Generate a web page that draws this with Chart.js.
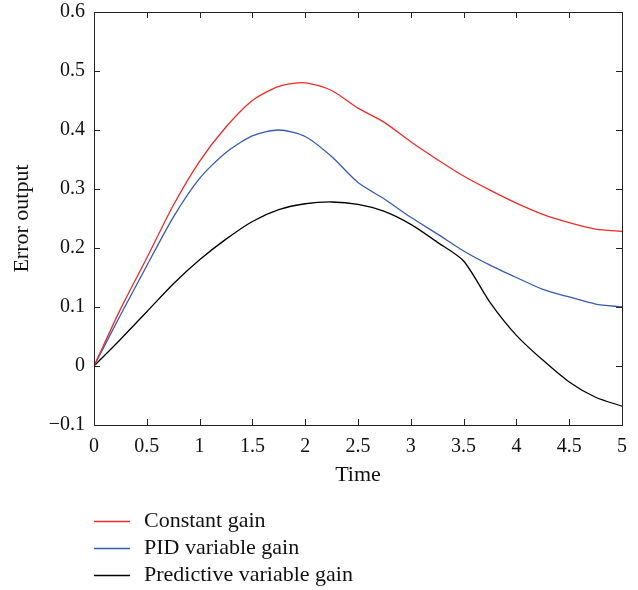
<!DOCTYPE html>
<html>
<head>
<meta charset="utf-8">
<script src="https://cdn.jsdelivr.net/npm/chart.js@4/dist/chart.umd.min.js"></script>
<style>
  html, body { margin: 0; padding: 0; background: #fff; }
  #wrap { width: 638px; height: 590px; position: relative; }
</style>
</head>
<body>
<div id="wrap"><canvas id="errorChart"></canvas></div>
<script>
// time samples (s)
const timeSteps = [0, 0.25, 0.5, 0.75, 1, 1.25, 1.5, 1.75, 2, 2.25, 2.5, 2.75, 3, 3.25, 3.5, 3.75, 4, 4.25, 4.5, 4.75, 5];

const constantGain = [0, 0.096, 0.183, 0.272, 0.347, 0.405, 0.450, 0.474, 0.480, 0.467, 0.437, 0.413, 0.380, 0.350, 0.322, 0.298, 0.276, 0.257, 0.243, 0.232, 0.228];
const pidGain = [0, 0.086, 0.170, 0.252, 0.318, 0.362, 0.390, 0.400, 0.389, 0.355, 0.311, 0.283, 0.252, 0.224, 0.195, 0.171, 0.150, 0.130, 0.117, 0.105, 0.100];
const predictiveGain = [0, 0.045, 0.092, 0.139, 0.180, 0.215, 0.245, 0.265, 0.275, 0.278, 0.274, 0.262, 0.240, 0.210, 0.178, 0.108, 0.052, 0.010, -0.027, -0.053, -0.068];

const seriesLabels = ['Constant gain', 'PID variable gain', 'Predictive variable gain'];
const seriesColors = ['#ee2a2a', '#3a5aad', '#000000'];

const xTicks = [0, 0.5, 1, 1.5, 2, 2.5, 3, 3.5, 4, 4.5, 5];
const yTicks = [-0.1, 0, 0.1, 0.2, 0.3, 0.4, 0.5, 0.6];

const FONT = '"Liberation Serif", "DejaVu Serif", serif';

function toPoints(values) {
    return values.map((v, i) => ({ x: timeSteps[i], y: v }));
}

// box frame + inward ticks on all four sides, matlab style
const frameTicks = {
    id: 'frameTicks',
    afterDraw(chart) {
        const ctx = chart.ctx;
        const area = chart.chartArea;
        const xs = chart.scales.x;
        const ys = chart.scales.y;
        const len = 6;
        ctx.save();
        ctx.strokeStyle = '#222';
        ctx.lineWidth = 1;
        ctx.beginPath();
        xTicks.forEach(t => {
            const px = Math.round(xs.getPixelForValue(t)) + 0.5;
            ctx.moveTo(px, area.bottom); ctx.lineTo(px, area.bottom - len);
            ctx.moveTo(px, area.top); ctx.lineTo(px, area.top + len);
        });
        yTicks.forEach(t => {
            const py = Math.round(ys.getPixelForValue(t)) + 0.5;
            ctx.moveTo(area.left, py); ctx.lineTo(area.left + len, py);
            ctx.moveTo(area.right, py); ctx.lineTo(area.right - len, py);
        });
        ctx.stroke();
        ctx.strokeRect(Math.round(area.left) + 0.5, Math.round(area.top) + 0.5,
            Math.round(area.right - area.left), Math.round(area.bottom - area.top));
        ctx.restore();
    }
};

// stacked legend under the axis title
const stackedLegend = {
    id: 'stackedLegend',
    afterDraw(chart) {
        const ctx = chart.ctx;
        const left = chart.chartArea.left;
        ctx.save();
        ctx.font = '22px ' + FONT;
        ctx.textBaseline = 'middle';
        chart.data.datasets.forEach((ds, i) => {
            const y = 521 + i * 27;
            ctx.strokeStyle = ds.borderColor;
            ctx.lineWidth = 1.3;
            ctx.beginPath();
            ctx.moveTo(left, y + 0.5);
            ctx.lineTo(left + 36, y + 0.5);
            ctx.stroke();
            ctx.fillStyle = '#111';
            ctx.fillText(ds.label, left + 50, y);
        });
        ctx.restore();
    }
};

const datasets = [constantGain, pidGain, predictiveGain].map((vals, i) => ({
    label: seriesLabels[i],
    data: toPoints(vals),
    borderColor: seriesColors[i],
    borderWidth: 1.3,
    pointRadius: 0,
    tension: 0.25,
    fill: false
}));

new Chart(document.getElementById('errorChart'), {
    type: 'line',
    data: { datasets: datasets },
    options: {
        responsive: true,
        maintainAspectRatio: false,
        animation: false,
        layout: { padding: { top: 12, right: 16, left: 0, bottom: 102 } },
        plugins: {
            legend: { display: false },
            tooltip: { enabled: false }
        },
        scales: {
            x: {
                type: 'linear',
                min: 0,
                max: 5,
                afterBuildTicks: scale => { scale.ticks = xTicks.map(v => ({ value: v })); },
                afterFit: scale => { scale.height = 63; scale.paddingLeft = 0; scale.paddingRight = 0; },
                grid: { display: false, drawTicks: false },
                border: { display: false },
                ticks: {
                    color: '#111',
                    font: { family: FONT, size: 20 },
                    padding: 10,
                    maxRotation: 0,
                    callback: v => String(v)
                },
                title: {
                    display: true,
                    text: 'Time',
                    color: '#111',
                    font: { family: FONT, size: 22 },
                    padding: { top: 0, bottom: 0 }
                }
            },
            y: {
                min: -0.1,
                max: 0.6,
                afterBuildTicks: scale => { scale.ticks = yTicks.map(v => ({ value: v })); },
                afterFit: scale => { scale.width = 94; scale.paddingTop = 0; scale.paddingBottom = 0; },
                grid: { display: false, drawTicks: false },
                border: { display: false },
                ticks: {
                    color: '#111',
                    font: { family: FONT, size: 20 },
                    padding: 9,
                    callback: v => (v < 0 ? '\u2212' + Math.abs(v) : String(Math.round(v * 10) / 10))
                },
                title: {
                    display: true,
                    text: 'Error output',
                    color: '#111',
                    font: { family: FONT, size: 22 },
                    padding: { top: 9, bottom: 0 }
                }
            }
        }
    },
    plugins: [frameTicks, stackedLegend]
});
</script>
</body>
</html>
